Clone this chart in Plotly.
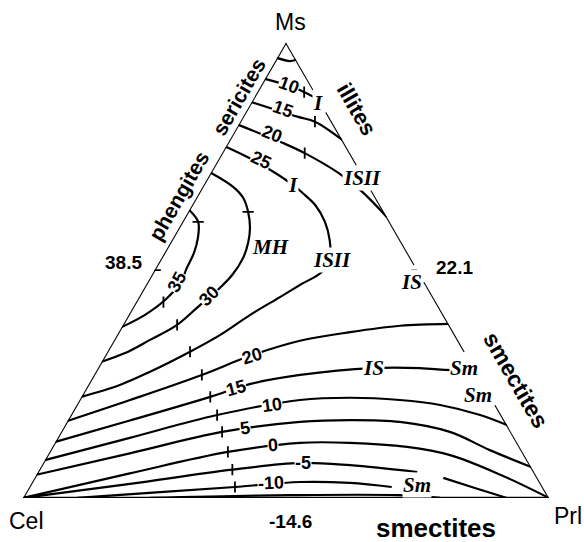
import plotly.graph_objects as go

W, H = 584, 542

# ---- contour lines: Ms fraction (a) and Prl fraction (c); Cel = 1 - a - c ----
top_ms = [0.966, 0.959, 0.962]
top_prl = [0.000, 0.028, 0.038]

c10u_ms = [0.920, 0.900, 0.874]
c10u_prl = [0.000, 0.067, 0.126]

c15u_ms = [0.869, 0.837, 0.826, 0.786]
c15u_prl = [0.000, 0.103, 0.142, 0.214]

c20u_ms = [0.819, 0.779, 0.757, 0.714, 0.672, 0.617]
c20u_prl = [0.000, 0.105, 0.157, 0.242, 0.309, 0.383]

c25_ms = [0.771, 0.736, 0.687, 0.670, 0.643, 0.606, 0.566, 0.527, 0.496,
          0.468, 0.441, 0.402, 0.358, 0.321, 0.277, 0.248, 0.222]
c25_prl = [0.000, 0.079, 0.170, 0.196, 0.234, 0.271, 0.300, 0.320, 0.320,
           0.293, 0.268, 0.231, 0.196, 0.157, 0.103, 0.060, 0.000]

c30_ms = [0.714, 0.683, 0.659, 0.628, 0.593, 0.560, 0.527, 0.490, 0.457,
          0.424, 0.380, 0.347, 0.318, 0.299]
c30_prl = [0.000, 0.058, 0.089, 0.114, 0.135, 0.148, 0.155, 0.153, 0.142,
           0.125, 0.103, 0.068, 0.035, 0.000]

c35_ms = [0.632, 0.606, 0.571, 0.538, 0.505, 0.472, 0.435, 0.402, 0.375]
c35_prl = [0.000, 0.030, 0.047, 0.056, 0.059, 0.063, 0.053, 0.031, 0.000]

c20l_ms = [0.169, 0.215, 0.270, 0.312, 0.345, 0.364, 0.378, 0.382]
c20l_prl = [0.000, 0.096, 0.205, 0.276, 0.354, 0.440, 0.528, 0.618]

c15l_ms = [0.123, 0.170, 0.222, 0.250, 0.270, 0.285, 0.285, 0.281, 0.278]
c15l_prl = [0.000, 0.118, 0.245, 0.306, 0.392, 0.521, 0.612, 0.662, 0.722]

c10l_ms = [0.083, 0.132, 0.182, 0.215, 0.220, 0.215, 0.204, 0.182, 0.160]
c10l_prl = [0.000, 0.137, 0.278, 0.419, 0.512, 0.609, 0.691, 0.778, 0.840]

c5_ms = [0.051, 0.098, 0.145, 0.167, 0.171, 0.167, 0.145, 0.105, 0.068]
c5_prl = [0.000, 0.154, 0.306, 0.443, 0.536, 0.633, 0.739, 0.835, 0.932]

c0_ms = [0.000, 0.054, 0.101, 0.121, 0.121, 0.112, 0.094, 0.051, 0.000]
c0_prl = [0.000, 0.176, 0.339, 0.466, 0.561, 0.674, 0.765, 0.882, 1.000]

cm5a_ms = [0.000, 0.031, 0.062, 0.077, 0.072, 0.057]
cm5a_prl = [0.000, 0.188, 0.367, 0.488, 0.586, 0.721]
cm5b_ms = [0.044, 0.022, 0.000]
cm5b_prl = [0.777, 0.848, 0.920]

cm10_ms = [0.000, 0.013, 0.024, 0.035, 0.033, 0.024]
cm10_prl = [0.103, 0.254, 0.391, 0.509, 0.605, 0.689]

cm15_ms = [0.000, 0.006, 0.006, 0.000]
cm15_prl = [0.241, 0.503, 0.712, 0.793]

# right (Ms-Prl) edge drawn in pieces, broken where labels sit (Ms fraction)
right_edge_ms = [[1.000, 0.896], [0.847, 0.731], [0.676, 0.512],
                 [0.474, 0.321], [0.204, 0.000]]

# small tick marks on the contours (Ms, Prl)
tick_v_ms = [0.891, 0.826, 0.757, 0.321, 0.270, 0.222, 0.182, 0.145, 0.101,
             0.062, 0.024, 0.380, 0.430]
tick_v_prl = [0.089, 0.142, 0.157, 0.157, 0.205, 0.245, 0.278, 0.306, 0.339,
              0.367, 0.391, 0.103, 0.052]
tick_h_ms = [0.606, 0.628]
tick_h_prl = [0.030, 0.114]

# edge mid-point values: 38.5 (Ms-Cel), 22.1 (Ms-Prl), -14.6 (Cel-Prl)
edge_tick_ms = [0.5, 0.5, 0.0]
edge_tick_prl = [0.0, 0.5, 0.5]

contours = [
    (top_ms, top_prl), (c10u_ms, c10u_prl), (c15u_ms, c15u_prl),
    (c20u_ms, c20u_prl), (c25_ms, c25_prl), (c30_ms, c30_prl),
    (c35_ms, c35_prl), (c20l_ms, c20l_prl), (c15l_ms, c15l_prl),
    (c10l_ms, c10l_prl), (c5_ms, c5_prl), (c0_ms, c0_prl),
    (cm5a_ms, cm5a_prl), (cm5b_ms, cm5b_prl), (cm10_ms, cm10_prl),
    (cm15_ms, cm15_prl),
]

fig = go.Figure()


def cel(a_vals, c_vals):
    return [max(0.0, 1 - a - c) for a, c in zip(a_vals, c_vals)]


def add_line(a_vals, c_vals, shape="spline", width=2.2):
    fig.add_trace(go.Scatterternary(
        a=a_vals, b=cel(a_vals, c_vals), c=c_vals, mode="lines",
        line=dict(color="black", width=width, shape=shape),
        hoverinfo="skip", showlegend=False))


def add_ticks(a_vals, c_vals, symbol, size=8):
    fig.add_trace(go.Scatterternary(
        a=a_vals, b=cel(a_vals, c_vals), c=c_vals, mode="markers",
        marker=dict(symbol=symbol, size=size, color="black",
                    line=dict(color="black", width=1.8)),
        hoverinfo="skip", showlegend=False))


for a_vals, c_vals in contours:
    add_line(a_vals, c_vals)

# triangle frame: left edge (Prl = 0), base (Ms = 0), right edge (Cel = 0)
add_line([1.0, 0.0], [0.0, 0.0], "linear")
add_line([0.0, 0.0], [0.0, 1.0], "linear")
for seg in right_edge_ms:
    add_line(seg, [1 - v for v in seg], "linear")

add_ticks(tick_v_ms, tick_v_prl, "line-ns")
add_ticks(tick_h_ms, tick_h_prl, "line-ew")
add_ticks(edge_tick_ms, edge_tick_prl, "line-ew", 9)

SANS = "Liberation Sans, Arial, sans-serif"
SERIF = "Liberation Serif, Times New Roman, serif"

annotations = []


def lab(text, x, y, size, angle=0, family=SANS, bg=True):
    annotations.append(dict(
        text=text, x=x / W, y=1 - y / H, xref="paper", yref="paper",
        showarrow=False, xanchor="center", yanchor="middle", textangle=angle,
        font=dict(family=family, size=size, color="black"),
        bgcolor="white" if bg else "rgba(0,0,0,0)", borderpad=0))


# corner names
lab("Ms", 290, 22, 23, bg=False)
lab("Cel", 26, 521, 23, bg=False)
lab("Prl", 568, 516, 23, bg=False)

# mineral group names
lab("<b>phengites</b>", 178, 196, 21, -60, bg=False)
lab("<b>sericites</b>", 238, 97, 21, -60, bg=False)
lab("<b>illites</b>", 357, 109, 22, 60, bg=False)
lab("<b>smectites</b>", 516, 380, 23, 60, bg=False)
lab("<b>smectites</b>", 436, 528, 26, bg=False)

# edge values
lab("<b>38.5</b>", 123, 262, 19, bg=False)
lab("<b>22.1</b>", 455, 267, 19, bg=False)
lab("<b>-14.6</b>", 290, 521, 19, bg=False)

# contour values
contour_labels = [
    ("10", 289, 85, 20), ("15", 283, 109, 20), ("20", 272, 134, 22),
    ("25", 261, 160, 25), ("35", 177, 282, -62), ("30", 209, 296, -45),
    ("20", 252, 356, -17), ("15", 236, 388, -15), ("10", 272, 405, -8),
    ("5", 245, 428, -8), ("0", 273, 445, -5), ("-5", 303, 463, 0),
    ("-10", 271, 483, -3),
]
for t, x, y, ang in contour_labels:
    lab("<b>" + t + "</b>", x, y, 18, ang)

# mineral field codes
field_labels = [
    ("I", 318, 103), ("I", 293, 185), ("ISII", 362, 178), ("ISII", 332, 260),
    ("MH", 270, 247), ("IS", 411, 282), ("IS", 373, 368), ("Sm", 464, 368),
    ("Sm", 478, 395), ("Sm", 417, 485),
]
for t, x, y in field_labels:
    lab("<b><i>" + t + "</i></b>", x, y, 21, family=SERIF)

hidden_axis = dict(showline=False, showgrid=False, showticklabels=False,
                   ticks="", title=dict(text=""))

fig.update_layout(
    width=W, height=H, autosize=False,
    margin=dict(l=0, r=0, t=0, b=0),
    paper_bgcolor="white", plot_bgcolor="white",
    ternary=dict(
        sum=1, bgcolor="white",
        domain=dict(x=[0.0394, 0.9401], y=[0.075, 0.928]),
        aaxis=hidden_axis, baxis=hidden_axis, caxis=hidden_axis),
    annotations=annotations,
    showlegend=False,
)

fig.write_html("out.html")
